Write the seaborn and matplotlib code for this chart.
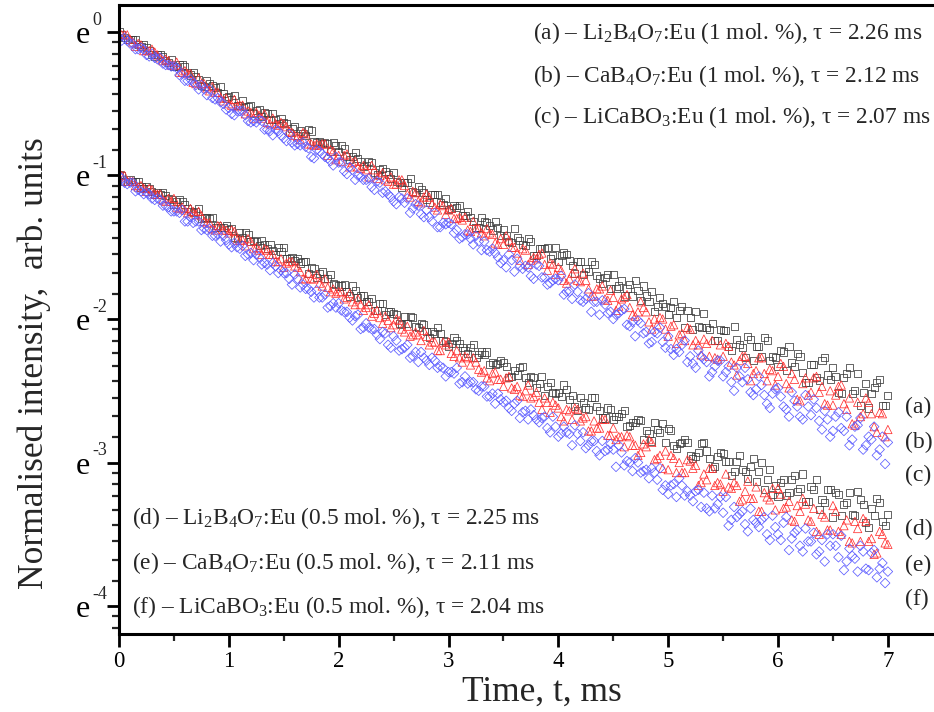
import numpy as np
import pandas as pd
import matplotlib
matplotlib.use("Agg")
import matplotlib.pyplot as plt
import seaborn as sns

# two interleaved sampling grids of the decay curves, ms
time_ms = np.round(np.arange(141) * 0.05, 3)
time_half = np.round(0.025 + np.arange(140) * 0.05, 3)

# ln of the normalised intensity
# upper group: 1 mol. % samples
ln_a = [0.00, -0.04, -0.05, -0.05, -0.10, -0.11, -0.16, -0.16, -0.17, -0.21,
        -0.24, -0.23, -0.24, -0.30, -0.31, -0.37, -0.34, -0.37, -0.42, -0.43,
        -0.45, -0.44, -0.51, -0.52, -0.51, -0.55, -0.59, -0.57, -0.57, -0.64,
        -0.63, -0.70, -0.66, -0.69, -0.72, -0.69, -0.77, -0.78, -0.78, -0.77,
        -0.83, -0.81, -0.89, -0.84, -0.90, -0.93, -0.91, -0.99, -0.95, -0.99,
        -0.98, -1.05, -1.05, -1.02, -1.12, -1.10, -1.17, -1.13, -1.13, -1.20,
        -1.24, -1.21, -1.21, -1.28, -1.29, -1.36, -1.29, -1.33, -1.38, -1.36,
        -1.38, -1.46, -1.37, -1.45, -1.49, -1.46, -1.56, -1.51, -1.50, -1.56,
        -1.60, -1.54, -1.59, -1.68, -1.60, -1.65, -1.60, -1.70, -1.75, -1.69,
        -1.69, -1.77, -1.84, -1.76, -1.73, -1.87, -1.84, -1.81, -1.91, -1.89,
        -1.97, -1.88, -1.94, -2.06, -1.99, -1.95, -2.06, -2.06, -2.03, -2.15,
        -2.08, -2.19, -2.05, -2.18, -2.27, -2.14, -2.19, -2.26, -2.15, -2.26,
        -2.33, -2.23, -2.19, -2.33, -2.26, -2.44, -2.32, -2.41, -2.29, -2.39,
        -2.34, -2.51, -2.41, -2.34, -2.50, -2.60, -2.45, -2.52, -2.44, -2.60,
        -2.53]
ln_a_half = [-0.02, -0.05, -0.05, -0.09, -0.09, -0.13, -0.17, -0.16, -0.20, -0.19,
             -0.24, -0.23, -0.28, -0.28, -0.33, -0.38, -0.36, -0.39, -0.38, -0.46,
             -0.47, -0.51, -0.48, -0.52, -0.57, -0.54, -0.56, -0.61, -0.61, -0.60,
             -0.64, -0.67, -0.72, -0.71, -0.68, -0.76, -0.76, -0.77, -0.83, -0.79,
             -0.79, -0.87, -0.87, -0.88, -0.94, -0.90, -0.98, -0.96, -0.97, -1.02,
             -1.04, -1.08, -1.05, -1.11, -1.08, -1.12, -1.19, -1.13, -1.19, -1.16,
             -1.23, -1.22, -1.28, -1.25, -1.32, -1.36, -1.32, -1.35, -1.32, -1.42,
             -1.42, -1.47, -1.43, -1.48, -1.44, -1.56, -1.51, -1.51, -1.58, -1.50,
             -1.56, -1.55, -1.63, -1.60, -1.69, -1.67, -1.62, -1.72, -1.71, -1.79,
             -1.79, -1.73, -1.79, -1.84, -1.80, -1.77, -1.88, -1.95, -1.85, -1.91,
             -1.92, -1.99, -1.91, -1.94, -2.07, -2.05, -1.96, -2.07, -2.15, -2.07,
             -2.08, -2.22, -2.14, -2.20, -2.12, -2.29, -2.19, -2.13, -2.29, -2.27,
             -2.22, -2.36, -2.30, -2.24, -2.37, -2.44, -2.32, -2.43, -2.27, -2.42,
             -2.40, -2.52, -2.38, -2.52, -2.38, -2.51, -2.62, -2.48, -2.42, -2.60]
ln_b = [-0.02, -0.02, -0.05, -0.10, -0.09, -0.13, -0.12, -0.16, -0.20, -0.20,
        -0.23, -0.28, -0.27, -0.29, -0.36, -0.36, -0.39, -0.38, -0.42, -0.48,
        -0.50, -0.47, -0.51, -0.57, -0.56, -0.56, -0.60, -0.63, -0.60, -0.65,
        -0.64, -0.69, -0.72, -0.75, -0.71, -0.78, -0.78, -0.78, -0.86, -0.83,
        -0.86, -0.86, -0.94, -0.90, -0.95, -0.96, -0.93, -1.02, -0.98, -1.04,
        -1.06, -1.03, -1.07, -1.15, -1.12, -1.19, -1.13, -1.20, -1.24, -1.21,
        -1.24, -1.30, -1.29, -1.29, -1.39, -1.37, -1.40, -1.37, -1.41, -1.48,
        -1.48, -1.45, -1.50, -1.59, -1.52, -1.59, -1.58, -1.54, -1.66, -1.62,
        -1.64, -1.73, -1.72, -1.65, -1.74, -1.73, -1.84, -1.79, -1.77, -1.87,
        -1.85, -1.91, -1.85, -1.92, -1.98, -1.88, -1.95, -2.07, -2.04, -2.00,
        -2.12, -2.04, -2.11, -2.15, -2.07, -2.15, -2.25, -2.17, -2.15, -2.28,
        -2.26, -2.19, -2.32, -2.29, -2.26, -2.43, -2.36, -2.27, -2.43, -2.36,
        -2.40, -2.33, -2.48, -2.42, -2.57, -2.41, -2.51, -2.40, -2.47, -2.60,
        -2.60, -2.47, -2.59, -2.55, -2.74, -2.68, -2.55, -2.66, -2.79, -2.66,
        -2.77]
ln_b_half = [-0.02, -0.02, -0.07, -0.08, -0.13, -0.13, -0.14, -0.18, -0.19, -0.23,
             -0.21, -0.28, -0.29, -0.35, -0.32, -0.36, -0.41, -0.42, -0.46, -0.46,
             -0.51, -0.52, -0.51, -0.55, -0.60, -0.58, -0.57, -0.64, -0.64, -0.63,
             -0.66, -0.70, -0.73, -0.70, -0.78, -0.79, -0.79, -0.78, -0.82, -0.89,
             -0.90, -0.85, -0.91, -0.94, -0.93, -1.01, -0.96, -1.00, -1.03, -1.01,
             -1.06, -1.03, -1.13, -1.11, -1.18, -1.15, -1.15, -1.22, -1.20, -1.27,
             -1.23, -1.30, -1.31, -1.38, -1.32, -1.37, -1.42, -1.40, -1.47, -1.44,
             -1.42, -1.50, -1.54, -1.51, -1.62, -1.57, -1.55, -1.62, -1.61, -1.69,
             -1.66, -1.75, -1.68, -1.73, -1.68, -1.79, -1.84, -1.79, -1.86, -1.80,
             -1.94, -1.86, -1.83, -1.97, -1.95, -1.92, -2.02, -2.00, -1.99, -2.07,
             -2.05, -2.17, -2.10, -2.06, -2.18, -2.18, -2.14, -2.26, -2.27, -2.18,
             -2.17, -2.30, -2.39, -2.26, -2.31, -2.38, -2.27, -2.38, -2.35, -2.46,
             -2.31, -2.45, -2.38, -2.56, -2.45, -2.53, -2.41, -2.51, -2.59, -2.50,
             -2.53, -2.46, -2.63, -2.73, -2.58, -2.66, -2.58, -2.75, -2.65, -2.82]
ln_c = [-0.04, -0.04, -0.08, -0.12, -0.11, -0.16, -0.15, -0.19, -0.22, -0.23,
        -0.24, -0.30, -0.34, -0.33, -0.37, -0.37, -0.44, -0.46, -0.46, -0.50,
        -0.53, -0.58, -0.55, -0.58, -0.63, -0.63, -0.62, -0.68, -0.72, -0.69,
        -0.74, -0.71, -0.79, -0.79, -0.80, -0.87, -0.82, -0.85, -0.88, -0.93,
        -0.91, -0.97, -0.94, -1.03, -1.01, -1.03, -1.08, -1.04, -1.12, -1.13,
        -1.18, -1.15, -1.19, -1.26, -1.20, -1.27, -1.24, -1.32, -1.36, -1.33,
        -1.33, -1.40, -1.44, -1.41, -1.44, -1.42, -1.52, -1.52, -1.51, -1.57,
        -1.59, -1.55, -1.67, -1.63, -1.63, -1.70, -1.62, -1.71, -1.76, -1.73,
        -1.73, -1.83, -1.81, -1.76, -1.87, -1.86, -1.95, -1.88, -1.87, -1.96,
        -2.00, -1.96, -1.93, -2.05, -2.12, -2.03, -2.09, -2.16, -2.10, -2.16,
        -2.12, -2.25, -2.23, -2.15, -2.26, -2.34, -2.26, -2.30, -2.37, -2.29,
        -2.40, -2.33, -2.50, -2.40, -2.34, -2.51, -2.49, -2.46, -2.59, -2.52,
        -2.48, -2.61, -2.68, -2.57, -2.68, -2.53, -2.67, -2.62, -2.77, -2.70,
        -2.78, -2.65, -2.78, -2.88, -2.75, -2.69, -2.88, -2.84, -2.95, -2.82,
        -2.86]
ln_c_half = [-0.06, -0.06, -0.08, -0.12, -0.12, -0.17, -0.18, -0.18, -0.23, -0.24,
             -0.25, -0.29, -0.34, -0.35, -0.40, -0.40, -0.40, -0.47, -0.49, -0.54,
             -0.57, -0.55, -0.55, -0.62, -0.62, -0.61, -0.68, -0.69, -0.68, -0.72,
             -0.76, -0.77, -0.78, -0.77, -0.81, -0.88, -0.83, -0.87, -0.90, -0.87,
             -0.91, -0.99, -0.96, -1.00, -1.03, -1.02, -1.10, -1.05, -1.11, -1.15,
             -1.20, -1.16, -1.16, -1.23, -1.21, -1.29, -1.29, -1.26, -1.36, -1.34,
             -1.34, -1.38, -1.43, -1.41, -1.48, -1.46, -1.46, -1.53, -1.54, -1.61,
             -1.64, -1.59, -1.58, -1.65, -1.64, -1.72, -1.63, -1.71, -1.75, -1.72,
             -1.70, -1.81, -1.86, -1.81, -1.88, -1.82, -1.88, -1.97, -1.90, -1.95,
             -1.97, -1.94, -2.04, -2.02, -2.01, -2.10, -2.17, -2.09, -2.06, -2.20,
             -2.21, -2.21, -2.18, -2.30, -2.31, -2.22, -2.28, -2.40, -2.33, -2.29,
             -2.37, -2.44, -2.34, -2.44, -2.42, -2.53, -2.40, -2.53, -2.62, -2.49,
             -2.54, -2.63, -2.51, -2.61, -2.70, -2.61, -2.56, -2.71, -2.64, -2.82,
             -2.68, -2.76, -2.68, -2.84, -2.74, -2.91, -2.82, -2.75, -2.91, -3.01]
# lower group: 0.5 mol. % samples
ln_d = [-0.99, -1.04, -1.03, -1.04, -1.08, -1.08, -1.11, -1.12, -1.12, -1.16,
        -1.20, -1.17, -1.20, -1.25, -1.25, -1.30, -1.29, -1.29, -1.35, -1.36,
        -1.38, -1.43, -1.40, -1.40, -1.46, -1.46, -1.45, -1.51, -1.52, -1.50,
        -1.50, -1.58, -1.59, -1.61, -1.60, -1.64, -1.71, -1.67, -1.72, -1.75,
        -1.77, -1.76, -1.84, -1.80, -1.84, -1.88, -1.86, -1.94, -1.89, -1.95,
        -1.96, -2.03, -1.98, -1.98, -2.05, -2.03, -2.09, -2.09, -2.06, -2.15,
        -2.19, -2.13, -2.17, -2.22, -2.20, -2.27, -2.23, -2.23, -2.30, -2.31,
        -2.30, -2.41, -2.36, -2.34, -2.41, -2.40, -2.48, -2.40, -2.47, -2.51,
        -2.51, -2.46, -2.56, -2.61, -2.55, -2.62, -2.55, -2.61, -2.69, -2.62,
        -2.70, -2.68, -2.64, -2.74, -2.72, -2.71, -2.78, -2.85, -2.77, -2.73,
        -2.76, -2.88, -2.87, -2.84, -2.95, -2.96, -2.87, -2.92, -3.04, -2.96,
        -2.94, -2.99, -3.06, -2.95, -3.06, -3.03, -3.13, -3.00, -3.12, -3.22,
        -3.24, -3.12, -3.21, -3.09, -3.18, -3.27, -3.17, -3.12, -3.26, -3.19,
        -3.38, -3.22, -3.29, -3.21, -3.37, -3.26, -3.42, -3.32, -3.25, -3.41,
        -3.36]
ln_d_half = [-1.00, -1.04, -1.04, -1.04, -1.09, -1.09, -1.13, -1.13, -1.14, -1.17,
             -1.18, -1.18, -1.23, -1.26, -1.23, -1.29, -1.30, -1.36, -1.36, -1.35,
             -1.37, -1.44, -1.43, -1.41, -1.45, -1.49, -1.48, -1.48, -1.55, -1.53,
             -1.58, -1.57, -1.58, -1.60, -1.68, -1.65, -1.68, -1.72, -1.69, -1.76,
             -1.77, -1.81, -1.77, -1.85, -1.84, -1.88, -1.94, -1.89, -1.97, -1.95,
             -1.97, -2.04, -2.03, -1.99, -2.06, -2.04, -2.13, -2.10, -2.10, -2.16,
             -2.17, -2.15, -2.20, -2.24, -2.18, -2.25, -2.25, -2.32, -2.32, -2.29,
             -2.33, -2.40, -2.39, -2.33, -2.44, -2.41, -2.45, -2.53, -2.44, -2.52,
             -2.54, -2.49, -2.53, -2.64, -2.58, -2.63, -2.55, -2.64, -2.69, -2.63,
             -2.68, -2.66, -2.75, -2.72, -2.70, -2.84, -2.80, -2.72, -2.79, -2.86,
             -2.78, -2.90, -2.86, -2.86, -2.97, -2.93, -2.86, -2.97, -3.03, -2.93,
             -2.99, -3.09, -2.99, -3.05, -3.11, -2.97, -3.06, -3.19, -3.05, -3.16,
             -3.14, -3.23, -3.12, -3.20, -3.08, -3.27, -3.19, -3.33, -3.28, -3.19,
             -3.21, -3.37, -3.28, -3.36, -3.20, -3.29, -3.45, -3.37, -3.28, -3.44]
ln_e = [-1.01, -1.00, -1.04, -1.07, -1.07, -1.11, -1.10, -1.13, -1.17, -1.16,
        -1.16, -1.23, -1.24, -1.23, -1.27, -1.28, -1.33, -1.37, -1.35, -1.38,
        -1.40, -1.39, -1.45, -1.49, -1.46, -1.50, -1.55, -1.52, -1.55, -1.60,
        -1.64, -1.60, -1.63, -1.67, -1.72, -1.72, -1.69, -1.77, -1.78, -1.79,
        -1.81, -1.86, -1.82, -1.90, -1.90, -1.92, -1.98, -1.94, -2.03, -2.01,
        -2.04, -2.01, -2.09, -2.12, -2.09, -2.15, -2.12, -2.16, -2.22, -2.16,
        -2.16, -2.26, -2.27, -2.26, -2.32, -2.30, -2.37, -2.41, -2.38, -2.42,
        -2.47, -2.40, -2.49, -2.53, -2.50, -2.55, -2.51, -2.63, -2.58, -2.58,
        -2.62, -2.71, -2.64, -2.62, -2.71, -2.68, -2.78, -2.76, -2.70, -2.81,
        -2.76, -2.82, -2.89, -2.82, -2.88, -2.93, -2.89, -2.86, -2.97, -3.04,
        -3.05, -2.97, -3.00, -3.07, -2.99, -3.02, -3.14, -3.12, -3.04, -3.14,
        -3.20, -3.17, -3.14, -3.27, -3.20, -3.25, -3.17, -3.34, -3.24, -3.18,
        -3.18, -3.32, -3.27, -3.41, -3.34, -3.29, -3.41, -3.48, -3.36, -3.47,
        -3.30, -3.48, -3.44, -3.55, -3.41, -3.55, -3.41, -3.53, -3.63, -3.50,
        -3.57]
ln_e_half = [-1.00, -1.04, -1.04, -1.08, -1.09, -1.09, -1.13, -1.13, -1.18, -1.18,
             -1.22, -1.22, -1.26, -1.25, -1.25, -1.32, -1.33, -1.38, -1.35, -1.38,
             -1.38, -1.45, -1.45, -1.44, -1.51, -1.52, -1.51, -1.55, -1.60, -1.58,
             -1.61, -1.60, -1.64, -1.72, -1.68, -1.72, -1.75, -1.72, -1.81, -1.82,
             -1.81, -1.85, -1.88, -1.86, -1.94, -1.90, -1.96, -1.99, -1.98, -2.06,
             -2.00, -2.07, -2.05, -2.11, -2.11, -2.08, -2.18, -2.16, -2.22, -2.18,
             -2.24, -2.22, -2.30, -2.27, -2.27, -2.35, -2.36, -2.43, -2.37, -2.42,
             -2.41, -2.48, -2.47, -2.54, -2.46, -2.54, -2.58, -2.55, -2.65, -2.60,
             -2.68, -2.63, -2.70, -2.63, -2.69, -2.78, -2.71, -2.76, -2.70, -2.81,
             -2.84, -2.82, -2.81, -2.88, -2.95, -2.87, -2.84, -2.98, -2.95, -2.92,
             -2.95, -3.07, -3.07, -2.98, -3.04, -3.16, -3.08, -3.04, -3.16, -3.15,
             -3.08, -3.18, -3.16, -3.26, -3.13, -3.25, -3.34, -3.21, -3.26, -3.33,
             -3.22, -3.31, -3.40, -3.30, -3.25, -3.40, -3.32, -3.50, -3.38, -3.47,
             -3.34, -3.50, -3.40, -3.56, -3.46, -3.39, -3.55, -3.64, -3.48, -3.56]
ln_f = [-1.00, -1.05, -1.05, -1.11, -1.11, -1.12, -1.16, -1.16, -1.21, -1.22,
        -1.25, -1.26, -1.32, -1.29, -1.32, -1.38, -1.38, -1.42, -1.41, -1.42,
        -1.48, -1.47, -1.51, -1.56, -1.54, -1.55, -1.62, -1.62, -1.61, -1.68,
        -1.68, -1.72, -1.69, -1.78, -1.79, -1.81, -1.80, -1.85, -1.92, -1.89,
        -1.89, -1.95, -1.99, -1.98, -2.07, -2.03, -2.07, -2.11, -2.09, -2.18,
        -2.12, -2.22, -2.20, -2.27, -2.23, -2.23, -2.29, -2.27, -2.34, -2.34,
        -2.37, -2.38, -2.45, -2.40, -2.44, -2.49, -2.47, -2.54, -2.52, -2.52,
        -2.58, -2.62, -2.59, -2.69, -2.64, -2.63, -2.70, -2.69, -2.76, -2.68,
        -2.82, -2.75, -2.80, -2.74, -2.85, -2.90, -2.85, -2.92, -2.85, -2.91,
        -2.91, -2.88, -3.02, -3.00, -2.97, -3.07, -3.05, -3.04, -3.12, -3.19,
        -3.22, -3.15, -3.11, -3.23, -3.23, -3.20, -3.31, -3.32, -3.23, -3.29,
        -3.35, -3.44, -3.31, -3.36, -3.43, -3.32, -3.42, -3.40, -3.50, -3.37,
        -3.50, -3.42, -3.61, -3.49, -3.58, -3.46, -3.55, -3.64, -3.54, -3.50,
        -3.50, -3.66, -3.75, -3.60, -3.67, -3.58, -3.74, -3.63, -3.80, -3.70,
        -3.76]
ln_f_half = [-1.02, -1.06, -1.05, -1.10, -1.13, -1.13, -1.17, -1.17, -1.21, -1.25,
             -1.25, -1.24, -1.32, -1.33, -1.32, -1.37, -1.37, -1.42, -1.46, -1.45,
             -1.50, -1.50, -1.49, -1.55, -1.59, -1.57, -1.61, -1.66, -1.63, -1.66,
             -1.68, -1.76, -1.72, -1.76, -1.79, -1.85, -1.85, -1.83, -1.91, -1.92,
             -1.94, -1.95, -2.01, -1.97, -2.06, -2.06, -2.07, -2.14, -2.10, -2.20,
             -2.15, -2.21, -2.18, -2.26, -2.30, -2.27, -2.32, -2.29, -2.33, -2.40,
             -2.37, -2.34, -2.44, -2.45, -2.44, -2.50, -2.47, -2.54, -2.59, -2.56,
             -2.57, -2.64, -2.57, -2.65, -2.70, -2.67, -2.72, -2.68, -2.79, -2.75,
             -2.80, -2.79, -2.88, -2.80, -2.79, -2.88, -2.85, -2.95, -2.92, -2.87,
             -3.03, -2.93, -2.99, -3.06, -3.00, -3.06, -3.11, -3.07, -3.04, -3.16,
             -3.16, -3.24, -3.16, -3.20, -3.27, -3.19, -3.21, -3.34, -3.32, -3.24,
             -3.24, -3.40, -3.38, -3.34, -3.48, -3.40, -3.45, -3.38, -3.54, -3.45,
             -3.54, -3.38, -3.53, -3.47, -3.62, -3.55, -3.49, -3.62, -3.69, -3.58,
             -3.58, -3.51, -3.69, -3.65, -3.76, -3.62, -3.75, -3.61, -3.74, -3.84]

upper_text = [
    r"(a) – Li$_2$B$_4$O$_7$:Eu (1 mol. %), τ = 2.26 ms",
    r"(b) – CaB$_4$O$_7$:Eu (1 mol. %), τ = 2.12 ms",
    r"(c) – LiCaBO$_3$:Eu (1 mol. %), τ = 2.07 ms",
]
lower_text = [
    r"(d) – Li$_2$B$_4$O$_7$:Eu (0.5 mol. %), τ = 2.25 ms",
    r"(e) – CaB$_4$O$_7$:Eu (0.5 mol. %), τ = 2.11 ms",
    r"(f) – LiCaBO$_3$:Eu (0.5 mol. %), τ = 2.04 ms",
]
curve_tags = ["(a)", "(b)", "(c)", "(d)", "(e)", "(f)"]
ytick_pos = [0, -1, -2, -3, -4]
ytick_sup = ["0", "-1", "-2", "-3", "-4"]

sns.set_theme(style="ticks")
plt.rcParams["font.family"] = ["Liberation Serif", "DejaVu Serif"]
plt.rcParams["mathtext.fontset"] = "custom"
plt.rcParams["mathtext.rm"] = "Liberation Serif"
plt.rcParams["mathtext.it"] = "Liberation Serif:italic"
plt.rcParams["mathtext.bf"] = "Liberation Serif:bold"

series = {
    "a": (ln_a, ln_a_half), "b": (ln_b, ln_b_half), "c": (ln_c, ln_c_half),
    "d": (ln_d, ln_d_half), "e": (ln_e, ln_e_half), "f": (ln_f, ln_f_half),
}
frames = []
for name, (full, half) in series.items():
    frames.append(pd.DataFrame({"t": np.concatenate([time_ms, time_half]),
                                "ln_i": np.concatenate([full, half]),
                                "curve": name}))
df = pd.concat(frames, ignore_index=True)

style = {
    "a": ("s", "#3a3a3a", 26), "d": ("s", "#3a3a3a", 26),
    "b": ("^", "#ff3030", 36), "e": ("^", "#ff3030", 36),
    "c": ("D", "#5c5cff", 24), "f": ("D", "#5c5cff", 24),
}

fig = plt.figure(figsize=(9.34, 7.12), dpi=100)
ax = fig.add_axes([119 / 934, 78 / 712, 1 - 119 / 934, 629 / 712])

# black first, blue on top
for name in ["a", "d", "b", "e", "c", "f"]:
    marker, color, size = style[name]
    sub = df[df["curve"] == name]
    sns.scatterplot(data=sub, x="t", y="ln_i", marker=marker, s=size,
                    color=color, facecolors="none", edgecolor=color,
                    linewidth=0.55, ax=ax, legend=False)

ax.set_xticks(range(8))
ax.set_xticks(np.arange(0.5, 7.5, 1.0), minor=True)
ax.set_yticks(ytick_pos)
ax.set_yticklabels(["e"] * len(ytick_pos))
# minor ticks split each e-fold linearly in intensity
minor = []
for n in range(5):
    lo, hi = np.exp(-n - 1), np.exp(-n)
    minor += [np.log(lo + k * (hi - lo) / 9) for k in range(1, 9)]
ax.set_yticks(minor, minor=True)
ax.set_xlim(0, 7.42)
ax.set_ylim(-4.195, 0.188)

ax.tick_params(which="major", direction="out", length=9, width=2,
               labelsize=16.5, color="black", labelcolor="black")
ax.tick_params(which="minor", direction="out", length=5, width=1.6)
ax.tick_params(axis="y", which="major", labelsize=23, pad=12)
for side in ["left", "bottom", "top"]:
    ax.spines[side].set_linewidth(2.2)
    ax.spines[side].set_color("black")
ax.spines["right"].set_visible(False)

for pos, sup in zip(ytick_pos, ytick_sup):
    ax.annotate(sup, xy=(0, pos), xycoords=("axes fraction", "data"),
                xytext=(-19.5, 2.5), textcoords="offset points",
                fontsize=13, ha="left", va="bottom")

ax.set_xlabel("Time, t, ms", fontsize=25.5)
ax.xaxis.set_label_coords(0.519, -0.067)
ax.xaxis.label.set_verticalalignment("top")
ax.set_ylabel("Normalised intensity,  arb. units", fontsize=25.5)
ax.yaxis.set_label_coords(-0.083, 0.43)

for y, s in zip([-0.049, -0.348, -0.634], upper_text):
    ax.text(3.77, y, s, fontsize=16.8, va="baseline")
for y, s in zip([-3.43, -3.74, -4.05], lower_text):
    ax.text(0.12, y, s, fontsize=16.8, va="baseline")
for y, s in zip([-2.655, -2.90, -3.13, -3.505, -3.756, -3.99], curve_tags):
    ax.text(7.16, y, s, fontsize=17, va="baseline")

fig.savefig("out.png", dpi=100)
